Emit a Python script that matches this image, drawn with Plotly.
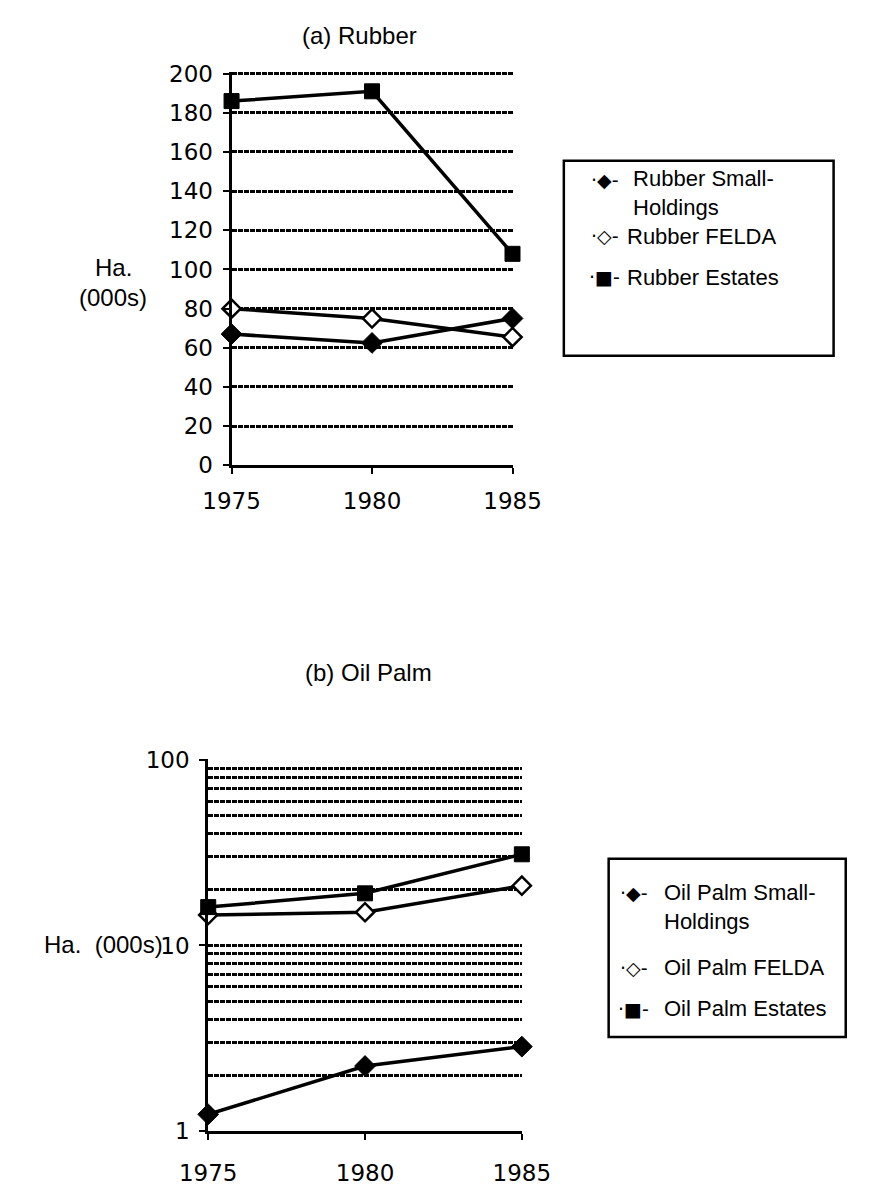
import plotly.graph_objects as go

# ---- data -------------------------------------------------------------
years = [1975, 1980, 1985]
year_labels = ["1975", "1980", "1985"]

rubber_smallholdings = [67, 62.5, 75]
rubber_felda = [80, 75, 65.5]
rubber_estates = [186, 191, 108]
rubber_ticks = [0, 20, 40, 60, 80, 100, 120, 140, 160, 180, 200]
rubber_tick_labels = ["0", "20", "40", "60", "80", "100", "120", "140", "160", "180", "200"]

palm_smallholdings = [1.23, 2.24, 2.85]
palm_felda = [14.6, 15.1, 21]
palm_estates = [16.1, 19.1, 31]
palm_ticks = [1, 10, 100]
palm_tick_labels = ["1", "10", "100"]
palm_minor = [2, 3, 4, 5, 6, 7, 8, 9, 20, 30, 40, 50, 60, 70, 80, 90]

rubber_names = [" Rubber Small-<br> Holdings", "Rubber FELDA", "Rubber Estates"]
palm_names = ["Oil Palm Small-<br>Holdings", "Oil Palm FELDA", "Oil Palm Estates"]

# ---- page geometry helpers (pixel -> paper) ---------------------------
W, H = 871, 1191


def px(x):
    return x / W


def py(y):
    return 1 - y / H


TXT = "Liberation Sans, Arial, sans-serif"
NUM = "DejaVu Sans, sans-serif"
GRID_DASH = "5px,1px"
TXT_SIZE = 24
KEY_SIZE = 22
NUM_SIZE = 23

fig = go.Figure()

marker_styles = [
    dict(symbol="diamond", size=16, color="black", line=dict(color="black", width=1)),
    dict(symbol="diamond", size=14, color="white", line=dict(color="black", width=2.5)),
    dict(symbol="square", size=15, color="black", line=dict(color="black", width=1)),
]


def add_series(values_list, xa, ya):
    for vals, mk in zip(values_list, marker_styles):
        fig.add_trace(go.Scatter(
            x=years, y=vals, mode="lines+markers",
            line=dict(color="black", width=3.5),
            marker=mk, cliponaxis=False, showlegend=False,
            xaxis=xa, yaxis=ya,
        ))


# Estates drawn last so their squares sit on top
add_series([rubber_smallholdings, rubber_felda, rubber_estates], "x", "y")
add_series([palm_smallholdings, palm_felda, palm_estates], "x2", "y2")

axis_common = dict(
    showline=True, linecolor="black", linewidth=3,
    ticks="outside", ticklen=6, tickwidth=2, tickcolor="black",
    zeroline=False, tickfont=dict(family=NUM, size=NUM_SIZE, color="black"),
)
grid_common = dict(showgrid=True, gridcolor="black", gridwidth=2.5, griddash=GRID_DASH)

fig.update_layout(
    width=W, height=H,
    margin=dict(l=0, r=0, t=0, b=0),
    paper_bgcolor="white", plot_bgcolor="white",
    showlegend=False,
    xaxis=dict(
        domain=[px(217), px(518)], range=[1975, 1985],
        tickvals=years, ticktext=year_labels, showgrid=False,
        anchor="y", ticklabelstandoff=7, **axis_common,
    ),
    yaxis=dict(
        domain=[py(463), py(61)], range=[0, 201],
        tickvals=rubber_ticks, ticktext=rubber_tick_labels,
        anchor="x", ticklabelstandoff=5, **grid_common, **axis_common,
    ),
    xaxis2=dict(
        domain=[px(192), px(528)], range=[1975, 1985],
        tickvals=years, ticktext=year_labels, showgrid=False,
        anchor="y2", ticklabelstandoff=13, **axis_common,
    ),
    yaxis2=dict(
        domain=[py(1143), py(763)], type="log", range=[0, 2.005],
        tickvals=palm_ticks, ticktext=palm_tick_labels,
        minor=dict(tickvals=palm_minor, showgrid=True, gridcolor="black",
                   gridwidth=2.5, griddash=GRID_DASH, ticks=""),
        anchor="x2", ticklabelstandoff=5, **grid_common, **axis_common,
    ),
)

annotations = [
    dict(x=px(354), y=py(24), text="(a) Rubber"),
    dict(x=px(364), y=py(675), text="(b) Oil Palm"),
    dict(x=px(90), y=py(261), text="Ha."),
    dict(x=px(90), y=py(292), text="(000s)"),
    dict(x=px(146), y=py(953), text="Ha.  (000s)", xanchor="right"),
]
for a in annotations:
    a.setdefault("xanchor", "center")
    a.update(xref="paper", yref="paper", yanchor="middle", showarrow=False,
             font=dict(family=TXT, size=TXT_SIZE, color="black"))
    fig.add_annotation(**a)

glyphs = ["·◆-", "·◇-", "·■-"]


def add_key(names, box, glyph_x, text_x, rows):
    x0, y0, x1, y1 = box
    fig.add_shape(type="rect", xref="paper", yref="paper",
                  x0=px(x0), y0=py(y0), x1=px(x1), y1=py(y1),
                  line=dict(color="black", width=2.5), fillcolor="rgba(0,0,0,0)")
    for name, g, (gy, ty) in zip(names, glyphs, rows):
        fig.add_annotation(x=px(glyph_x), y=py(gy), text=g,
                           xref="paper", yref="paper",
                           xanchor="center", yanchor="middle", showarrow=False,
                           font=dict(family=NUM, size=19, color="black"))
        fig.add_annotation(x=px(text_x), y=py(ty), text=name,
                           xref="paper", yref="paper", align="left",
                           xanchor="left", yanchor="middle", showarrow=False,
                           font=dict(family=TXT, size=KEY_SIZE, color="black"))


add_key(rubber_names, (573, 152, 862, 351), 617, 638,
        [(172, 185), (229, 229), (271, 271)])
add_key(palm_names, (621, 865, 875, 1047), 648, 678,
        [(900, 914), (976, 976), (1018, 1018)])

fig.write_html("out.html")
